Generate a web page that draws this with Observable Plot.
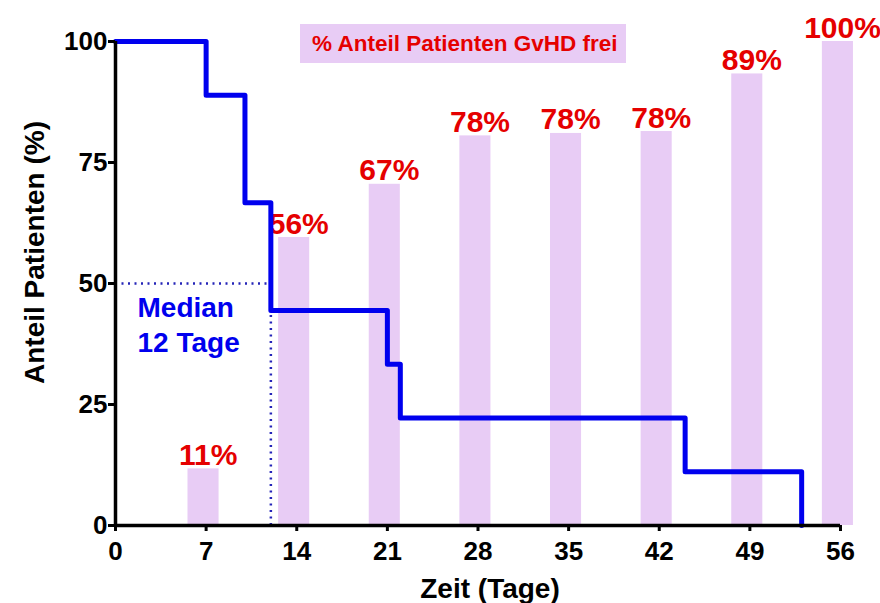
<!DOCTYPE html>
<html><head><meta charset="utf-8">
<script src="https://cdn.jsdelivr.net/npm/d3@7"></script>
<script src="https://cdn.jsdelivr.net/npm/@observablehq/plot@0.6"></script>
<style>
body{margin:0;background:#fff;}
#wrap{position:relative;width:880px;height:603px;font-family:"Liberation Sans",Arial,sans-serif;overflow:hidden;}
#legend{position:absolute;left:300px;top:24px;width:326px;height:39px;background:#e8ccf5;color:#e50000;font-weight:bold;font-size:22.5px;line-height:39px;padding-left:12px;box-sizing:border-box;white-space:nowrap;}
</style></head><body>
<div id="wrap"><div id="legend">% Anteil Patienten GvHD frei</div></div>
<script>
// Bars: % patients GvHD free at each weekly timepoint
const barDays = [7, 14, 21, 28, 35, 42, 49, 56];
const barHeights = [11.7, 59.5, 70.5, 80.5, 81, 81.4, 93.3, 100];
const barLabels = ["11%", "56%", "67%", "78%", "78%", "78%", "89%", "100%"];
// Kaplan-Meier step curve
const kmDays = [0, 7, 10, 12, 21, 22, 44, 53];
const kmSurvival = [100, 88.9, 66.7, 44.4, 33.3, 22.2, 11.1, 0];
// Axes
const xTicks = [0, 7, 14, 21, 28, 35, 42, 49, 56];
const yTicks = [0, 25, 50, 75, 100];
const medianDay = [12];
const medianLevel = [50];
const medianText = ["Median\n12 Tage"];
const xTitle = ["Zeit (Tage)"];
const yTitle = ["Anteil Patienten (%)"];

const bars = barDays.map((d, i) => ({day: d, h: barHeights[i], label: barLabels[i]}));
const km = kmDays.map((d, i) => ({day: d, s: kmSurvival[i]}));

const lavender = "#e8ccf5";
const red = "#e50000";
const blue = "#0000ee";
const font = "Liberation Sans, Arial, sans-serif";

const chart = Plot.plot({
  width: 880,
  height: 603,
  marginLeft: 115,
  marginRight: 40,
  marginTop: 41,
  marginBottom: 78,
  style: {fontFamily: font, fontWeight: "bold", background: "transparent", overflow: "visible"},
  x: {domain: [0, 56], ticks: xTicks},
  y: {domain: [0, 100], ticks: yTicks},
  marks: [
    Plot.rectY(bars, {x1: d => d.day - 1.4, x2: d => d.day + 1.0, y1: 0, y2: "h", fill: lavender}),
    Plot.text(bars, {x: "day", y: "h", text: "label", fill: red, fontSize: 30, fontWeight: "bold",
      lineAnchor: "bottom", dy: -4, dx: 2, style: "letter-spacing:-2.5px"}),
    Plot.ruleY(medianLevel, {x1: 0, x2: medianDay[0], stroke: "#2424b8", strokeWidth: 2.5, strokeDasharray: "2 4.5"}),
    Plot.ruleX(medianDay, {y1: 0, y2: medianLevel[0], stroke: "#2424b8", strokeWidth: 2.5, strokeDasharray: "2 4.5"}),
    Plot.line(km, {x: "day", y: "s", curve: "step-after", stroke: blue, strokeWidth: 5, strokeLinejoin: "round"}),
    Plot.text(medianText, {x: 0, y: medianLevel[0], text: d => d, textAnchor: "start", lineAnchor: "top",
      lineHeight: 1.25, dx: 22, dy: 9, fill: blue, fontSize: 28, fontWeight: "bold"}),
    Plot.ruleX([0], {stroke: "#000", strokeWidth: 3.5}),
    Plot.ruleY([0], {stroke: "#000", strokeWidth: 3.5}),
    Plot.axisY({ticks: yTicks, tickSize: 7, tickPadding: 1, strokeWidth: 3, fontSize: 26, fontWeight: "bold", label: null, fill: "#000"}),
    Plot.axisX({ticks: xTicks, tickSize: 6, tickPadding: 10, strokeWidth: 3, fontSize: 26, fontWeight: "bold", label: null, fill: "#000"}),
    Plot.text(xTitle, {frameAnchor: "bottom", text: d => d, textAnchor: "middle", lineAnchor: "bottom", dy: 72, dx: 12, fontSize: 28, fontWeight: "bold", fill: "#000"}),
    Plot.text(yTitle, {frameAnchor: "left", text: d => d, rotate: -90, textAnchor: "middle", lineAnchor: "bottom", dx: -72, dy: -31, fontSize: 28, fontWeight: "bold", fill: "#000"})
  ]
});
document.getElementById("wrap").prepend(chart);
</script>
</body></html>
